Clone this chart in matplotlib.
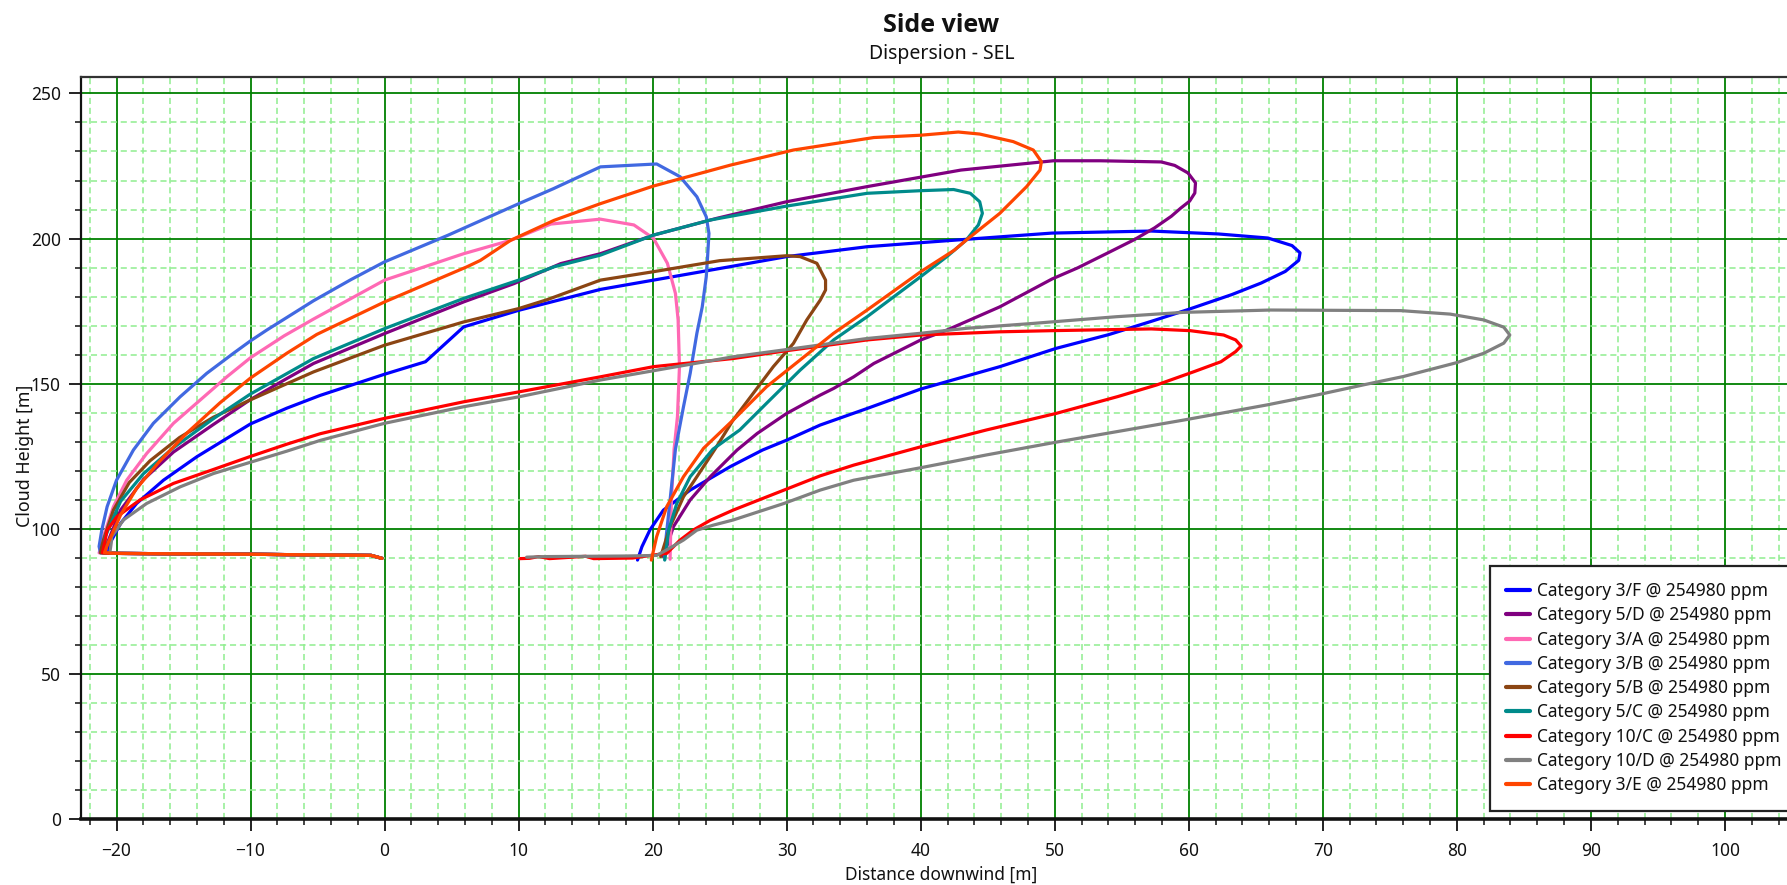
import matplotlib
matplotlib.use("Agg")
import matplotlib.pyplot as plt
from matplotlib.ticker import MultipleLocator
from matplotlib import font_manager as fm

# ---------------- data ----------------
labels = ["Category 3/F @ 254980 ppm", "Category 5/D @ 254980 ppm",
          "Category 3/A @ 254980 ppm", "Category 3/B @ 254980 ppm",
          "Category 5/B @ 254980 ppm", "Category 5/C @ 254980 ppm",
          "Category 10/C @ 254980 ppm", "Category 10/D @ 254980 ppm",
          "Category 3/E @ 254980 ppm"]
colors = ["#0000FF", "#800080", "#FF69B4", "#4169E1", "#8B4513",
          "#008B8B", "#FF0000", "#808080", "#FF4500"]

# shared ground segment (release line)
base_x = [-0.2, -1.0, -10.0, -20.0]
base_y = [89.9, 90.9, 91.3, 91.6]

f3_x = [-20.6, -20.55, -20.5, -19.7, -18.5, -16.5, -14.0, -10, -7.3, -4.81, 0, 3.05, 5.9, 10,
        16.1, 20.06, 25, 30, 36, 40, 45.9, 49.8, 57.2, 62.2, 65.9, 67.7, 68.3, 68.2, 67.2,
        65.4, 63.2, 59.9, 57.2, 54.0, 50.1, 45.9, 40, 36, 32.5, 30, 28.2, 25.8, 22.8, 20.8,
        19.8, 19.2, 18.87]
f3_y = [91.8, 93.5, 95, 101.9, 108.8, 116.8, 124.9, 136.2, 141.6, 146.0, 153.3, 157.6, 169.6,
        175.3, 182.5, 185.7, 189.7, 193.8, 197.2, 198.6, 200.6, 201.9, 202.6, 201.6, 200.2,
        197.6, 195.1, 192.5, 188.7, 184.7, 180.7, 175.5, 171.5, 166.9, 162.2, 155.9, 148.2,
        141.5, 135.8, 130.6, 127.2, 121.5, 113.4, 106.5, 99.7, 93.9, 89.3]

d5_x = [-20.9, -20.8, -20.7, -19.7, -18.0, -15.75, -12.77, -10, -7.3, -5.3, 0, 5.9, 9.65,
        13.15, 16.1, 20.06, 24.8, 30, 36, 43, 49.9, 53.4, 57.95, 58.95, 59.94, 60.5, 60.45,
        60.06, 59.4, 58.7, 57.45, 55.96, 53.97, 51.7, 49.8, 45.9, 41.95, 40, 36.5, 35, 33.5,
        32.5, 30, 27.8, 26.3, 24.3, 22.8, 21.55, 20.8]
d5_y = [91.8, 93, 95, 106.5, 117, 126.5, 136, 144.6, 151.8, 157, 167.3, 178.2, 184.5, 191.4,
        194.8, 201.2, 207, 212.7, 217.9, 223.6, 226.8, 226.8, 226.4, 225.2, 222.6, 219.2,
        215.7, 212.9, 210.5, 207.7, 203.7, 199.7, 195.1, 189.9, 186.1, 176.5, 168.5, 165.1,
        157, 152.4, 148.4, 146.1, 139.8, 132.9, 127.2, 118, 110, 100.8, 90.5]

a3_x = [-21.3, -21.1, -20.98, -20.23, -19.24, -17.75, -15.75, -13.76, -11.77, -10, -7.5,
        -5.3, 0, 5.9, 9.4, 12.4, 16.1, 18.6, 20.06, 21.1, 21.7, 21.9, 22.0, 21.85, 21.6,
        21.4, 21.3]
a3_y = [91.8, 94, 97.3, 107.7, 116.8, 126, 136.4, 144.4, 152.4, 159, 166.5, 172.3, 185.7,
        194.8, 199.4, 205, 206.7, 204.7, 200.1, 191.5, 181.1, 172, 155.9, 138.7, 127.5,
        110, 89.6]

b3_x = [-21.2, -21.3, -21.1, -20.7, -20.0, -18.74, -17.25, -15.26, -13.27, -11.28, -10,
        -8.79, -5.3, -2.5, 0, 4.7, 10, 12.6, 16.1, 20.3, 22.05, 23.3, 24.0, 24.2, 24.1, 24.0,
        23.7, 23.3, 22.8, 22.3, 21.7, 21.3, 21.0, 20.9]
b3_y = [91.8, 94, 99.6, 107.7, 116.8, 127.2, 136.4, 145.5, 153.6, 160.5, 164.8, 168.5, 178.6,
        185.9, 192, 201.1, 212, 217.2, 224.7, 225.7, 221.3, 214.4, 207.5, 201.8, 193.8,
        186.9, 176.5, 167.4, 153.6, 142.1, 127.5, 110, 97, 89.6]

b5_x = [-21.2, -21.1, -20.98, -20.23, -19.05, -17.5, -15.3, -12.77, -10, -5.3, 0, 5.9, 10,
        12.15, 16.1, 20.06, 25, 30, 31, 32.25, 32.9, 32.9, 32.5, 31.5, 30.5, 29, 27.5, 26,
        24.65, 23.3, 22.3, 21.3, 20.6]
b5_y = [91.8, 94, 96.2, 106.5, 116, 123.5, 131.5, 138.5, 144.5, 154.1, 163.3, 171.3, 175.9,
        179, 185.7, 188.6, 192.4, 194.1, 193.8, 191.5, 185.7, 182.3, 178.8, 172, 163.9,
        155.9, 146.7, 137.5, 127.5, 118, 111.1, 100.8, 90.5]

c5_x = [-20.9, -20.85, -19.7, -18.0, -15.75, -12.77, -10, -7.3, -5.3, 0, 5.9, 10, 12.65,
        16.1, 20.06, 24.3, 30, 36, 40, 42.45, 43.7, 44.4, 44.6, 44.3, 43.4, 41.95, 40, 36,
        33.5, 31, 28.5, 26.5, 24.5, 22.8, 21.8, 21.2, 20.9]
c5_y = [91.8, 97.3, 109.5, 119, 128, 138, 146.5, 153.5, 158.7, 169, 179.4, 185.7, 190.3,
        194.3, 201.2, 206.4, 211.2, 215.6, 216.5, 216.9, 215.6, 212.7, 208.7, 204.7, 199.5,
        193.8, 186.9, 173.1, 165.1, 154.7, 143.3, 134.1, 127.5, 118, 108.8, 99.7, 89.3]

c10_x = [-21.05, -20.9, -20.7, -19.98, -18.25, -15.75, -12.77, -10, -7.3, -4.81, 0, 5.9, 10,
         16.1, 20.06, 26, 30, 36, 40, 45.9, 49.8, 57.2, 60.1, 62.6, 63.5, 63.9, 63.5, 62.4,
         60.4, 57.6, 54.7, 50.1, 44.9, 40, 35, 32.5, 29.8, 26, 24.3, 23.05, 22.05, 21.05,
         20.5, 20.0, 18.5, 17.0, 15.6, 15.0, 12.3, 11.5, 10.8, 10.1]
c10_y = [91.8, 95, 99.6, 104.2, 110, 115.7, 120.5, 125.0, 129.2, 132.8, 138.1, 143.8, 147.2,
         152.4, 155.9, 158.7, 161.4, 165.1, 166.8, 167.9, 168.3, 168.9, 168.3, 166.8, 165.1,
         163, 161.1, 157.6, 154.2, 149.6, 145.6, 139.8, 134.1, 128.3, 122, 118.3, 113.4,
         106.5, 103.0, 99.7, 96.2, 91.6, 91.3, 91.0, 90.0, 89.9, 89.8, 90.6, 89.8, 90.5,
         89.9, 89.8]

d10_x = [-20.5, -20.4, -20.36, -19.49, -17.75, -15.26, -12.77, -10, -7.3, -4.81, 0, 5.9, 10,
         16.1, 26, 30, 36, 40, 43.4, 48.4, 54.6, 59.6, 66.1, 75.8, 79.5, 82, 83.5, 83.95,
         83.5, 82, 80, 76, 73, 69.6, 65.8, 59.6, 54.6, 50.1, 44.9, 40, 35, 32.5, 29.8, 26,
         24.5, 23.3, 22.3, 21.05, 20.3, 18, 15, 12, 10.6]
d10_y = [91.8, 95, 97.3, 103.1, 108.8, 114.5, 119.1, 123.0, 126.8, 130.5, 136.4, 142.1,
         145.5, 151.3, 159.3, 161.8, 165.6, 167.4, 169.1, 170.8, 173.1, 174.6, 175.4, 175.2,
         174, 172, 169.5, 166.8, 164, 160.5, 157.3, 152.5, 149.6, 146.2, 142.7, 137.5, 133.5,
         129.9, 125.5, 121.1, 116.8, 113.4, 108.8, 103.1, 101.3, 99.6, 96.2, 92.8, 90.9,
         90.7, 90.6, 90.5, 90.3]

e3_x = [-20.9, -20.8, -20.6, -19.7, -18.5, -16.75, -14.76, -12.27, -10, -7.3, -5.06, 0, 6.15,
        7.15, 9.4, 12.65, 16.08, 20.06, 25.8, 30.5, 36.5, 40, 42.8, 44.4, 46.9, 48.4, 49.0,
        48.9, 47.9, 45.9, 43.4, 42.5, 40, 36, 33.5, 31, 28.5, 26, 23.8, 22.3, 21.05, 20.3,
        19.9]
e3_y = [91.8, 93, 95.5, 104.8, 114, 123.5, 133, 143.5, 152, 160.5, 167, 178.2, 190.3, 192.5,
        199.4, 206.3, 212, 218.1, 225.3, 230.5, 234.8, 235.6, 236.7, 236, 233.4, 230.5,
        226.5, 223.6, 217.9, 208.7, 199.5, 196, 188.6, 175.4, 167.4, 158.2, 149, 137.5,
        127.8, 118, 107.7, 97.4, 89.3]

series_x = [f3_x, d5_x, a3_x, b3_x, b5_x, c5_x, c10_x, d10_x, e3_x]
series_y = [f3_y, d5_y, a3_y, b3_y, b5_y, c5_y, c10_y, d10_y, e3_y]

# ---------------- fonts ----------------
def _has_bold(fam):
    for f in fm.fontManager.ttflist:
        if f.name == fam:
            w = f.weight
            if isinstance(w, str):
                if w in ('bold', 'heavy', 'black', 'semibold', 'demibold', 'extra bold'):
                    return True
            elif w >= 600:
                return True
    return False

main_font = 'Noto Sans'
bold_font = next((f for f in ['Noto Sans', 'Open Sans', 'Roboto', 'Lato', 'DejaVu Sans']
                  if _has_bold(f)), 'DejaVu Sans')
plt.rcParams['font.family'] = [main_font, 'DejaVu Sans']

# ---------------- figure ----------------
W, H = 1787, 885
fig = plt.figure(figsize=(W / 100, H / 100), dpi=100)
ax_left, ax_right, ax_top, ax_bot = 81, 1802, 76.7, 819.4
ax = fig.add_axes([ax_left / W, 1 - ax_bot / H, (ax_right - ax_left) / W, (ax_bot - ax_top) / H])

for xs, ys, c, lab in zip(series_x, series_y, colors, labels):
    ax.plot(base_x + xs, base_y + ys, color=c, lw=2.3, label=lab,
            solid_joinstyle='round', solid_capstyle='round')

ax.set_xlim(-22.65, 105.75)
ax.set_ylim(0, 255.75)

ax.xaxis.set_major_locator(MultipleLocator(10))
ax.xaxis.set_minor_locator(MultipleLocator(2))
ax.yaxis.set_major_locator(MultipleLocator(50))
ax.yaxis.set_minor_locator(MultipleLocator(10))

ax.set_axisbelow(True)
ax.grid(which='minor', color='#90EE90', lw=1.1, ls=(0, (4, 2.5)))
ax.grid(which='major', color='#008000', lw=1.3)

ax.spines['right'].set_visible(False)
ax.spines['left'].set_color('#111111')
ax.spines['left'].set_linewidth(1.6)
ax.spines['bottom'].set_color('#111111')
ax.spines['bottom'].set_linewidth(2.6)
ax.spines['top'].set_color('#333333')
ax.spines['top'].set_linewidth(1.6)

ax.tick_params(which='major', direction='out', length=8.5, width=1.3, color='#111111',
               labelsize=12.5, labelcolor='#111111', pad=6)
ax.tick_params(which='minor', direction='out', length=4.5, width=1.1, color='#111111')
ax.tick_params(axis='x', which='major', pad=8)

fig.text(941.5 / W, 1 - 25 / H, "Side view", ha='center', va='center',
         fontsize=18, fontweight='bold', family=[bold_font, 'DejaVu Sans'], color='#111111')
fig.text(941.5 / W, 1 - 54 / H, "Dispersion - SEL", ha='center', va='center',
         fontsize=14, color='#111111')
fig.text(941.5 / W, 1 - 875 / H, "Distance downwind [m]", ha='center', va='center',
         fontsize=12.5, color='#111111')
fig.text(25 / W, 1 - 456 / H, "Cloud Height [m]", ha='center', va='center',
         rotation=90, fontsize=12.8, color='#111111')

leg = fig.legend(loc='upper left', bbox_to_anchor=(1490 / W, 1 - 565.7 / H),
                 frameon=True, fancybox=False, framealpha=1, edgecolor='#222222',
                 fontsize=12.5, handlelength=1.35, handletextpad=0.42, labelspacing=0.36,
                 borderpad=0.95, borderaxespad=0)
leg.get_frame().set_linewidth(1.6)
for line in leg.get_lines():
    line.set_linewidth(3)
for t in leg.get_texts():
    t.set_color('#111111')

fig.savefig("out.png", dpi=100)
